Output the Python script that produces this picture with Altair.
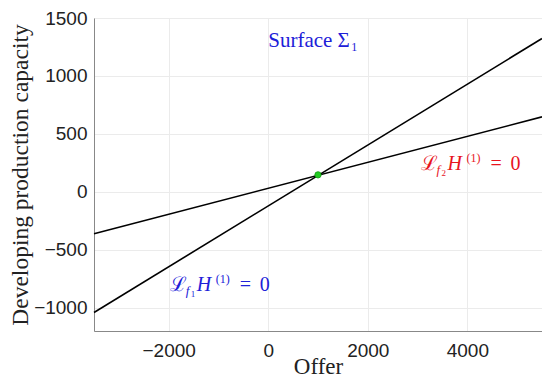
import altair as alt
import pandas as pd

# Lines (endpoints)
line_names = ["L1", "L1", "L2", "L2"]
line_x = [-3500, 5500, -3500, 5500]
line_y = [-1040, 1323, -361, 647]

# Equilibrium point
pt_x = [1000]
pt_y = [147]

# Label anchors (data units)
surf_x, surf_y = [0], [1252]
red_x, red_y = [3060], [193]
blue_x, blue_y = [-1980], [-857]

x_ticks = [-2000, 0, 2000, 4000]
y_ticks = [-1000, -500, 0, 500, 1000, 1500]

BLUE = "#2020d8"
RED = "#e8141e"
SERIF = "Liberation Serif"
SANS = "Liberation Sans"

xs = alt.Scale(domain=[-3500, 5500], nice=False)
ys = alt.Scale(domain=[-1200, 1500], nice=False)

lines_df = pd.DataFrame({"name": line_names, "x": line_x, "y": line_y})
base = alt.Chart(lines_df).mark_line(color="black", strokeWidth=1.6).encode(
    x=alt.X("x:Q", scale=xs, title="Offer",
            axis=alt.Axis(values=x_ticks, grid=True, gridColor="#ebebeb", format="d",
                          domainColor="#888888", ticks=False, labelFont=SANS,
                          labelFontSize=19, labelColor="#222222", labelPadding=10,
                          titleFont=SERIF, titleFontSize=23, titleFontWeight="normal",
                          titleColor="#222222", titlePadding=-5)),
    y=alt.Y("y:Q", scale=ys, title="Developing production capacity",
            axis=alt.Axis(values=y_ticks, grid=True, gridColor="#ebebeb", format="d",
                          domainColor="#888888", ticks=False, labelFont=SANS,
                          labelFontSize=19, labelColor="#222222", labelPadding=7,
                          titleFont=SERIF, titleFontSize=23.5, titleFontWeight="normal",
                          titleColor="#222222", titlePadding=1)),
    detail="name:N",
)

pt = alt.Chart(pd.DataFrame({"x": pt_x, "y": pt_y})).mark_point(
    filled=True, color="#22cc22", size=40, opacity=1,
    stroke="#119911", strokeWidth=0.8).encode(x=alt.X("x:Q", scale=xs), y=alt.Y("y:Q", scale=ys))


def piece(xv, yv, text, color, dx=0, dy=0, size=18, style="normal", font=SERIF):
    df = pd.DataFrame({"x": xv, "y": yv, "t": [text]})
    return alt.Chart(df).mark_text(
        align="left", baseline="alphabetic", font=font, fontSize=size,
        fontStyle=style, color=color, dx=dx, dy=dy).encode(
        x=alt.X("x:Q", scale=xs), y=alt.Y("y:Q", scale=ys), text="t:N")


def lie_label(xv, yv, sub, color):
    return [
        piece(xv, yv, "ℒ", color, dx=0, size=20, font="DejaVu Serif"),
        piece(xv, yv, "f", color, dx=16, dy=4, size=13, style="italic"),
        piece(xv, yv, sub, color, dx=21, dy=6, size=9),
        piece(xv, yv, "H", color, dx=27, size=20, style="italic"),
        piece(xv, yv, "(1)", color, dx=46, dy=-8, size=12),
        piece(xv, yv, "=", color, dx=70, size=20),
        piece(xv, yv, "0", color, dx=90, size=20),
    ]


layers = [base, pt]
layers += [piece(surf_x, surf_y, "Surface Σ", BLUE, size=21),
           piece(surf_x, surf_y, "1", BLUE, dx=83, dy=4, size=12)]
layers += lie_label(red_x, red_y, "2", RED)
layers += lie_label(blue_x, blue_y, "1", BLUE)

chart = alt.layer(*layers).properties(
    width=448, height=313,
    autosize=alt.AutoSizeParams(type="none"),
    padding={"left": 86, "top": 10, "right": 0, "bottom": 48},
).configure_view(stroke=None).configure(background="white")

chart.save("out.html", embed_options={"renderer": "svg", "actions": False})
